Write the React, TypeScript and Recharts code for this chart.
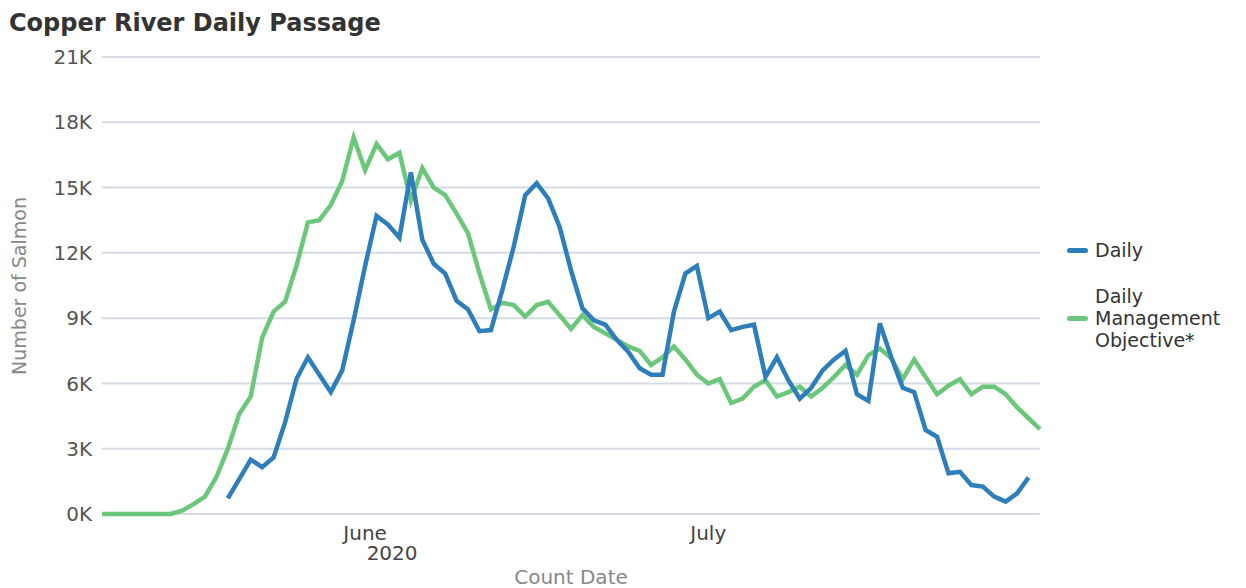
import { LineChart, Line, XAxis, YAxis, CartesianGrid } from "recharts";

const BLUE = "#2E7EBB";
const GREEN = "#6BC77A";
const FONT = "'DejaVu Sans', Verdana, sans-serif";

// one point per count date, 9 May .. 30 Jul 2020
const START = Date.UTC(2020, 4, 9);
const dates = Array.from({ length: 83 }, (_, i) => new Date(START + i * 86400000).toISOString().slice(0, 10));

// thousands of salmon
const daily = [
  null, null, null, null, null, null, null, null, null, null, null,
  0.72, 1.6, 2.5, 2.15, 2.6, 4.2, 6.2, 7.2, 6.4, 5.6,
  6.6, 8.9, 11.4, 13.7, 13.3, 12.7, 15.7, 12.6, 11.5, 11.05,
  9.8, 9.4, 8.4, 8.45, 10.3, 12.3, 14.65, 15.2, 14.5, 13.2,
  11.2, 9.45, 8.9, 8.7, 8.0, 7.46, 6.7, 6.4, 6.4, 9.3,
  11.05, 11.4, 9.0, 9.3, 8.45, 8.6, 8.7, 6.3, 7.2, 6.15,
  5.3, 5.8, 6.6, 7.1, 7.5, 5.5, 5.2, 8.76, 7.2, 5.8,
  5.6, 3.86, 3.55, 1.87, 1.94, 1.33, 1.26, 0.8, 0.57, 0.95,
  1.68, null,
];

const objective = [
  0, 0, 0, 0, 0, 0, 0, 0.15, 0.45, 0.8,
  1.7, 3.0, 4.6, 5.4, 8.1, 9.3, 9.75, 11.4, 13.4, 13.5,
  14.2, 15.3, 17.3, 15.8, 17.0, 16.3, 16.6, 14.4, 15.9, 15.0,
  14.65, 13.8, 12.9, 11.05, 9.4, 9.7, 9.6, 9.07, 9.6, 9.75,
  9.14, 8.5, 9.14, 8.6, 8.3, 8.0, 7.7, 7.5, 6.85, 7.2,
  7.7, 7.1, 6.4, 6.0, 6.2, 5.1, 5.3, 5.85, 6.15, 5.4,
  5.6, 5.85, 5.4, 5.8, 6.3, 6.85, 6.4, 7.3, 7.6, 7.15,
  6.2, 7.1, 6.3, 5.5, 5.9, 6.2, 5.5, 5.85, 5.85, 5.5,
  4.9, 4.4, 3.9,
];

const yTicks = [0, 3000, 6000, 9000, 12000, 15000, 18000, 21000];
const monthTicks = ["2020-06-01", "2020-07-01"];
const monthLabels = ["June", "July"];
const yearLabel = "2020";

const data = dates.map((d, i) => ({
  day: i,
  date: d,
  daily: daily[i] == null ? null : daily[i] * 1000,
  objective: objective[i] * 1000,
}));

function MonthTick({ x, y, index }: any) {
  return (
    <g>
      <text x={x} y={y} dy={18} textAnchor="middle" fill="#444" fontSize={20} fontFamily={FONT}>
        {monthLabels[index]}
      </text>
      {index === 0 && (
        <text x={x + 27} y={y} dy={38} textAnchor="middle" fill="#444" fontSize={20} fontFamily={FONT}>
          {yearLabel}
        </text>
      )}
    </g>
  );
}

function YLabel() {
  return (
    <text x={19} y={286} transform="rotate(-90 19 286)" textAnchor="middle" dominantBaseline="central" fill="#888" fontSize={19} fontFamily={FONT}>
      Number of Salmon
    </text>
  );
}

export default function App() {
  return (
    <div style={{ position: "absolute", left: 0, top: 0, width: 1246, height: 588, background: "#fff", fontFamily: FONT }}>
      <div style={{ position: "absolute", left: 9, top: 11, fontSize: 24, lineHeight: "24px", fontWeight: "bold", color: "#333" }}>
        Copper River Daily Passage
      </div>
      <LineChart width={1246} height={588} data={data} margin={{ top: 57, right: 206, bottom: 0, left: 0 }}>
        <CartesianGrid stroke="#D5DBE4" strokeWidth={2} vertical={false} />
        <XAxis
          type="number"
          dataKey="day"
          domain={[0, dates.length - 1]}
          ticks={monthTicks.map((d) => dates.indexOf(d))}
          tick={<MonthTick />}
          axisLine={false}
          tickLine={false}
          height={74}
          label={{ value: "Count Date", position: "insideBottom", offset: 4, fill: "#888", fontSize: 20, fontFamily: FONT }}
        />
        <YAxis
          domain={[0, 21000]}
          ticks={yTicks}
          tickFormatter={(v: number) => `${v / 1000}K`}
          tick={{ fill: "#555", fontSize: 20, fontFamily: FONT }}
          axisLine={false}
          tickLine={false}
          width={102}
          tickMargin={4}
          label={<YLabel />}
        />
        <Line type="linear" dataKey="objective" stroke={GREEN} strokeWidth={4.5} dot={false} isAnimationActive={false} />
        <Line type="linear" dataKey="daily" stroke={BLUE} strokeWidth={4.5} dot={false} isAnimationActive={false} />
      </LineChart>
      <div style={{ position: "absolute", left: 1067, top: 238, fontSize: 19, color: "#333", lineHeight: "22px" }}>
        <div style={{ position: "absolute", left: 0, top: 10, width: 21, height: 5, borderRadius: 3, background: BLUE }} />
        <div style={{ position: "absolute", left: 28, top: 1 }}>Daily</div>
        <div style={{ position: "absolute", left: 0, top: 78, width: 21, height: 5, borderRadius: 3, background: GREEN }} />
        <div style={{ position: "absolute", left: 28, top: 47, whiteSpace: "nowrap" }}>
          Daily
          <br />
          Management
          <br />
          Objective*
        </div>
      </div>
    </div>
  );
}
